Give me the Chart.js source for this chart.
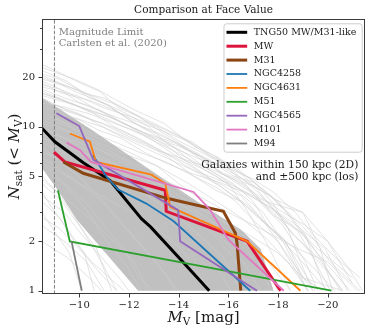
<!DOCTYPE html>
<html>
<head>
<meta charset="utf-8">
<script src="https://cdn.jsdelivr.net/npm/chart.js@4"></script>
<style>
  html, body { margin: 0; padding: 0; background: #fff; }
</style>
</head>
<body>
<canvas id="c" width="374" height="334"></canvas>
<script>
// axis limits + ticks
const xLimits = [-21.5, -8.5];
const yLimits = [0.955, 45.4];
const xTicks = [-10, -12, -14, -16, -18, -20];
const yTicksMajor = [1, 2, 5, 10, 20];
const yTicksMinor = [3, 4, 6, 7, 8, 9, 30, 40];
const magLimit = -9.0;

// TNG50 median + 16-84 band, [M_V, N_sat]
const tngMedian = [[-8.5, 9.8], [-9.02, 8.1], [-10.15, 6.05], [-11.24, 4.7], [-12.5, 2.75], [-12.87, 2.45], [-14.2, 1.48], [-15.23, 1.0]];
const bandUpper = [[-8.5, 15], [-10.5, 9.6], [-12.86, 5.45], [-15, 3.3], [-16.5, 2.36], [-17.3, 1.8], [-17.82, 1.0]];
const bandLower = [[-8.5, 5.6], [-9.14, 4.1], [-9.91, 2.7], [-12.37, 1.0], [-17.82, 1.0]];

// observed hosts
const mw = [[-8.98, 7.0], [-9.42, 6.1], [-13.46, 4.1], [-13.5, 3.05], [-16.76, 2.0], [-18.1, 1.0]];
const m31 = [[-9.36, 6.1], [-10.16, 5.2], [-10.83, 4.85], [-13.52, 3.66], [-15.8, 3.05], [-16.28, 2.25], [-16.35, 1.95], [-16.5, 1.0]];
const ngc4258 = [[-10.55, 6.7], [-11.1, 4.95], [-11.55, 4.15], [-12.7, 3.4], [-13.8, 2.65], [-16.88, 1.0]];
const ngc4631 = [[-9.62, 9.1], [-10.43, 8.1], [-10.67, 6.1], [-12.9, 5.1], [-13.46, 4.5], [-13.66, 3.25], [-16.76, 2.0], [-18.9, 1.0]];
const m51 = [[-9.14, 4.1], [-9.62, 2.0], [-20.15, 1.0]];
const ngc4565 = [[-9.08, 12.1], [-10.0, 10.1], [-10.56, 6.3], [-13.98, 3.1], [-14.06, 2.0], [-17.15, 1.0]];
const m101 = [[-9.49, 8.0], [-10.03, 7.2], [-10.47, 6.1], [-14.6, 4.0], [-15.27, 3.1], [-16.0, 2.05], [-18.23, 1.0]];
const m94 = [[-9.69, 2.0], [-10.1, 1.0]];

// individual TNG50 hosts (thin grey), estimated
const tngHosts = [
  [[-8.5, 24], [-9.3, 21], [-10.2, 18], [-10.8, 16.5], [-11.6, 13], [-12.4, 11.5], [-13.2, 9.5], [-14, 8], [-14.9, 6.3], [-15.8, 5.2], [-16.9, 4.4], [-17.8, 3.2], [-18.6, 2.2], [-19.6, 1.6], [-20.6, 1]],
  [[-8.5, 22], [-9.5, 19], [-10.4, 15], [-11.2, 13.5], [-12, 11], [-13, 9], [-13.8, 7.5], [-14.6, 6], [-15.5, 5], [-16.4, 4], [-17.4, 3], [-18.2, 2], [-19.2, 1]],
  [[-8.5, 20], [-9.1, 18.5], [-10, 16], [-11, 14], [-11.9, 12], [-12.8, 10], [-13.5, 8], [-14.2, 7], [-15.2, 5.5], [-16.2, 4.5], [-17, 3.5], [-17.6, 2.5], [-18.8, 1.6], [-20, 1]],
  [[-8.5, 19], [-9.6, 16], [-10.6, 13], [-11.5, 11], [-12.3, 9.5], [-13.1, 8], [-14, 6.5], [-15, 5.5], [-16, 4.5], [-16.8, 3], [-17.5, 2], [-18.5, 1]],
  [[-8.5, 18], [-9.2, 17], [-10, 14], [-10.9, 12.5], [-11.8, 10.5], [-12.7, 9], [-13.6, 7.5], [-14.4, 6], [-15.3, 4.8], [-16.5, 3.8], [-17.3, 2.8], [-18.1, 1.9], [-19.4, 1]],
  [[-8.5, 17], [-9.4, 15], [-10.3, 13.5], [-11.1, 12], [-12.2, 10.5], [-13.3, 9], [-14.4, 7.2], [-15.4, 6], [-16.2, 5], [-17, 4.6], [-17.9, 3.6], [-19, 3], [-20, 2], [-21, 1.1]],
  [[-8.5, 16], [-9.6, 14], [-10.6, 12], [-11.4, 10], [-12.4, 8.5], [-13.4, 7], [-14.3, 6], [-15.1, 5], [-16, 4], [-16.8, 3.3], [-17.8, 2.3], [-18.7, 1.8], [-20.3, 1]],
  [[-8.5, 15], [-9.3, 13], [-10.2, 11.5], [-11.3, 10], [-12.1, 8.8], [-13, 7.5], [-13.9, 6.3], [-14.8, 5.2], [-15.7, 4.3], [-16.6, 3.4], [-17.5, 2.6], [-18.3, 2], [-19, 1.2], [-19.8, 1]],
  [[-8.5, 14], [-9.8, 12], [-10.9, 10.5], [-11.8, 9], [-12.7, 7.8], [-13.6, 6.5], [-14.6, 5], [-15.5, 4.1], [-16.5, 3.5], [-17.3, 2.7], [-18.2, 2.1], [-18.9, 1.4], [-19.5, 1]],
  [[-8.5, 13], [-9.2, 12], [-10, 11], [-10.8, 9.5], [-11.7, 8.5], [-12.6, 7], [-13.5, 6], [-14.5, 5.2], [-15.6, 4.6], [-16.6, 4], [-17.7, 3.2], [-18.6, 2.5], [-19.6, 1.8], [-21, 1.2]],
  [[-8.5, 12], [-9.5, 10.5], [-10.5, 9.2], [-11.5, 8], [-12.4, 7], [-13.5, 6.1], [-14.6, 5], [-15.6, 4.2], [-16.3, 3.5], [-17.1, 2.6], [-18, 2], [-19.2, 1]],
  [[-8.5, 11], [-9.5, 9.5], [-10.6, 8], [-11.7, 6.5], [-12.8, 5.5], [-13.9, 4.2], [-15, 3.2], [-16, 2.5], [-17, 1.8], [-17.7, 1]],
  [[-8.5, 10], [-9.4, 8.5], [-10.3, 7.2], [-11.4, 6], [-12.5, 4.8], [-13.5, 3.8], [-14.6, 3], [-15.6, 2.2], [-16.6, 1.5], [-17.3, 1]],
  [[-8.5, 9], [-9.7, 7.5], [-10.8, 6.3], [-12, 5], [-13, 4], [-14.2, 3], [-15.3, 2.3], [-16.2, 1.6], [-16.8, 1]],
  [[-8.5, 8], [-9.3, 7], [-10.4, 6], [-11.6, 4.8], [-12.7, 3.8], [-13.8, 3], [-14.8, 2.2], [-15.8, 1.6], [-16.5, 1]],
  [[-8.5, 7], [-9.6, 6], [-10.7, 5], [-11.9, 4], [-13.2, 3], [-14.3, 2.2], [-15.2, 1.7], [-16.1, 1]],
  [[-8.5, 12.5], [-9.2, 11], [-10.1, 9], [-11.2, 7.5], [-12.2, 6.5], [-13.1, 5.8], [-14, 4.5], [-15, 3.5], [-15.9, 2.6], [-16.9, 2], [-17.6, 1.3], [-18, 1]],
  [[-8.5, 6], [-9.5, 5], [-10.6, 4], [-11.8, 3.2], [-13, 2.5], [-14.1, 1.8], [-15.3, 1]],
  [[-8.5, 10.5], [-9.8, 9], [-11, 7], [-12.1, 5.7], [-13.2, 4.5], [-14.4, 3.5], [-15.5, 2.8], [-16.8, 2.2], [-18, 1.7], [-19, 1.2], [-20.6, 1]],
  [[-8.5, 5], [-9.1, 4], [-9.7, 3], [-10.4, 2], [-11, 1.4], [-11.5, 1]],
  [[-8.5, 4.5], [-9.3, 3.5], [-10, 2.5], [-10.7, 1.8], [-11.3, 1]],
  [[-8.5, 4], [-8.9, 3.2], [-9.5, 2.4], [-10.2, 1.7], [-10.6, 1]],
  [[-8.5, 3.5], [-9.2, 2.8], [-9.8, 2], [-10.5, 1.5], [-11.8, 1]],
  [[-8.5, 3], [-9, 2.3], [-9.6, 1.7], [-10.1, 1]],
  [[-8.5, 5.5], [-9.4, 4.5], [-10.2, 3.5], [-11, 2.5], [-11.8, 1.8], [-12.4, 1.2], [-13, 1]],
  [[-8.5, 2.5], [-9.4, 2], [-10.3, 1.5], [-11, 1]],
  [[-8.5, 6.5], [-9.2, 5.5], [-10, 4.5], [-10.9, 3.5], [-11.7, 2.6], [-12.5, 1.9], [-13.4, 1.3], [-14, 1]],
  [[-8.5, 14.5], [-10, 12], [-11.5, 9], [-13, 7], [-14.5, 5.5], [-16, 4.5], [-17.5, 3.5], [-19.0, 3.0], [-19.7, 1.8], [-20.2, 1]],
  [[-8.5, 9.5], [-10, 8], [-11.6, 6.5], [-13, 5], [-14.5, 4], [-16, 3], [-17.5, 2.3], [-18.8, 1.8], [-20, 1.5], [-21.2, 1]],
  [[-8.5, 16.5], [-9.9, 13.5], [-11.2, 11], [-12.6, 8.8], [-13.9, 7], [-15.2, 5.5], [-16.4, 4.2], [-17.6, 3.3], [-18.6, 2.6], [-19.9, 1.8], [-20.8, 1]],
  [[-8.5, 23], [-9.8, 19.5], [-10.7, 17], [-11.5, 14.5], [-12.3, 12.5], [-13.4, 10.5], [-14.2, 8.5], [-15, 7], [-16, 5.8], [-16.9, 4.8], [-17.6, 3.9], [-18.4, 3], [-19.3, 2.2], [-20.1, 1.5], [-21.3, 1]],
  [[-8.5, 21], [-9.2, 19.5], [-10.1, 16.5], [-11.3, 13], [-12.5, 10], [-13.3, 8.8], [-14.3, 7.5], [-15.3, 6.2], [-16.1, 5.3], [-17.2, 4.2], [-18, 3.5], [-18.9, 2.4], [-19.8, 1.5], [-20.5, 1]],
  [[-8.5, 19.5], [-9.6, 17.5], [-10.5, 15.5], [-11.4, 13.8], [-12.2, 12], [-13, 10.5], [-13.9, 9], [-14.7, 7.5], [-15.6, 6.5], [-16.5, 5.2], [-17.2, 4.1], [-17.9, 3], [-18.8, 2.3], [-19.4, 1.6], [-20.1, 1]],
  [[-8.5, 18.5], [-9.3, 16], [-10.4, 14.5], [-11.3, 12.8], [-12.3, 10.8], [-13.3, 9.5], [-14.5, 8], [-15.6, 6.4], [-16.3, 5], [-17, 4], [-17.8, 2.9], [-19.1, 2.2], [-19.9, 1]],
  [[-8.5, 17.5], [-9.9, 15.5], [-11, 13], [-12.1, 11.5], [-13.1, 10], [-14, 8.2], [-14.9, 7], [-15.9, 5.8], [-16.8, 4.5], [-17.7, 3.8], [-18.5, 2.8], [-19.3, 1.9], [-20.9, 1]],
  [[-8.5, 16], [-9.1, 15], [-10.1, 13], [-11.2, 11.5], [-12.2, 9.8], [-13.1, 8.5], [-14.1, 7.5], [-15.1, 6.3], [-16.1, 5.5], [-17, 4.8], [-17.8, 4], [-18.7, 3], [-19.4, 2.2], [-20.3, 1.6], [-21.3, 1.2]],
  [[-8.5, 15.5], [-9.5, 14], [-10.5, 12.6], [-11.5, 11], [-12.6, 9.2], [-13.8, 8], [-14.8, 6.7], [-15.7, 5.2], [-16.7, 4.4], [-17.4, 3.3], [-18.2, 2.5], [-19.1, 1.5], [-19.6, 1]],
  [[-8.5, 14], [-9.4, 13.2], [-10.4, 12], [-11.4, 10.5], [-12.2, 9.5], [-13.2, 8.2], [-14.1, 7.1], [-15, 6.2], [-15.9, 5], [-16.9, 4], [-17.8, 3], [-18.9, 2], [-20, 1.3], [-20.6, 1]],
  [[-8.5, 13.5], [-9.7, 11.5], [-10.9, 10], [-12, 8.5], [-13, 7.3], [-14, 6.5], [-15.1, 5.7], [-16.2, 4.8], [-17.2, 3.8], [-18.2, 3], [-19.1, 2.5], [-20, 2], [-20.8, 1.4], [-21.4, 1]],
  [[-8.5, 20.5], [-9.4, 18], [-10.2, 16], [-11, 15], [-11.8, 13], [-12.6, 11], [-13.7, 9.2], [-14.6, 8], [-15.3, 6.6], [-16.2, 5.8], [-17.1, 4.5], [-17.8, 3.4], [-18.4, 2.4], [-18.9, 1.5], [-19.4, 1]],
  [[-8.5, 7.5], [-9.3, 6], [-10.1, 4.8], [-10.9, 3.6], [-11.6, 2.7], [-12.3, 2], [-13.1, 1.5], [-13.9, 1]],
  [[-8.5, 4.8], [-9, 4.1], [-9.8, 3.3], [-10.6, 2.6], [-11.4, 2], [-12.2, 1.5], [-12.8, 1]],
  [[-8.5, 3.8], [-9.4, 3], [-10.1, 2.2], [-10.9, 1.6], [-11.6, 1.2], [-12, 1]],
  [[-8.5, 2.8], [-9.2, 2.4], [-10, 1.8], [-10.8, 1.3], [-11.5, 1]],
  [[-8.5, 6], [-9.1, 5], [-9.8, 3.8], [-10.5, 2.8], [-11.1, 2], [-11.8, 1.5], [-12.5, 1]],
  [[-8.5, 2], [-9.5, 1.6], [-10.4, 1.2], [-10.9, 1]],
  [[-8.5, 11.5], [-9.6, 10], [-10.8, 8.5], [-12, 7], [-13.2, 5.7], [-14.4, 4.5], [-15.4, 3.6], [-16.5, 2.8], [-17.5, 2.1], [-18.4, 1.5], [-19.2, 1]],
  [[-8.5, 8.5], [-9.5, 7.5], [-10.6, 6.6], [-11.8, 5.5], [-12.9, 4.6], [-14, 3.6], [-15.1, 2.8], [-16.4, 2.1], [-17.6, 1.5], [-18.5, 1]],
];

const SERIF = "'DejaVu Serif', serif";
const pts = (arr) => arr.map(([x, y]) => ({ x, y }));

const hosts = [
  { label: 'MW', data: mw, color: '#dc143c', width: 3 },
  { label: 'M31', data: m31, color: '#8b4513', width: 3 },
  { label: 'NGC4258', data: ngc4258, color: '#1f77b4', width: 1.8 },
  { label: 'NGC4631', data: ngc4631, color: '#ff7f0e', width: 1.8 },
  { label: 'M51', data: m51, color: '#2ca02c', width: 1.8 },
  { label: 'NGC4565', data: ngc4565, color: '#9467bd', width: 1.8 },
  { label: 'M101', data: m101, color: '#e377c2', width: 1.8 },
  { label: 'M94', data: m94, color: '#7f7f7f', width: 1.8 },
];

const datasets = [];
datasets.push({
  label: 'TNG50 MW/M31-like', inLegend: true, data: pts(tngMedian),
  borderColor: '#000', borderWidth: 3, order: 20,
});
// later hosts drawn on top
hosts.forEach((h, i) => datasets.push({
  label: h.label, inLegend: true, data: pts(h.data),
  borderColor: h.color, borderWidth: h.width, order: 19 - i,
}));
datasets.push({
  data: [{ x: magLimit, y: yLimits[0] }, { x: magLimit, y: yLimits[1] }],
  borderColor: '#808080', borderWidth: 1, borderDash: [3.7, 1.6], order: 30,
});
tngHosts.forEach((run) => datasets.push({
  data: pts(run), borderColor: 'rgba(205,205,205,0.7)', borderWidth: 0.8, order: 40,
}));
datasets.push({
  data: pts(bandUpper.concat(bandLower.slice().reverse())),
  borderWidth: 0, backgroundColor: '#c0c0c0', fill: 'shape', order: 50,
});

function drawParts(ctx, parts, cx, base, angle) {
  ctx.save();
  ctx.translate(cx, base);
  ctx.rotate(angle);
  let total = 0;
  parts.forEach((p) => { ctx.font = p.font; p.w = ctx.measureText(p.text).width; total += p.w; });
  let x = -total / 2;
  ctx.textAlign = 'left';
  ctx.textBaseline = 'alphabetic';
  parts.forEach((p) => { ctx.font = p.font; ctx.fillText(p.text, x, p.dy || 0); x += p.w; });
  ctx.restore();
}

const decor = {
  id: 'decor',
  afterDraw(chart) {
    const ctx = chart.ctx, ca = chart.chartArea;
    const xs = chart.scales.x, ys = chart.scales.y;
    ctx.save();
    ctx.fillStyle = '#1a1a1a';

    // title
    ctx.font = '10.5px ' + SERIF;
    ctx.textAlign = 'center';
    ctx.textBaseline = 'middle';
    ctx.fillText('Comparison at Face Value', (ca.left + ca.right) / 2, 10);

    // frame + ticks
    ctx.strokeStyle = '#3a3a3a';
    ctx.lineWidth = 1;
    ctx.strokeRect(ca.left + 0.5, ca.top + 0.5, ca.right - ca.left - 1, ca.bottom - ca.top - 1);
    ctx.beginPath();
    xTicks.forEach((v) => { const px = Math.round(xs.getPixelForValue(v)) + 0.5; ctx.moveTo(px, ca.bottom); ctx.lineTo(px, ca.bottom + 3.5); });
    yTicksMajor.forEach((v) => { const py = Math.round(ys.getPixelForValue(v)) + 0.5; ctx.moveTo(ca.left - 3.5, py); ctx.lineTo(ca.left, py); });
    yTicksMinor.forEach((v) => { const py = Math.round(ys.getPixelForValue(v)) + 0.5; ctx.moveTo(ca.left - 2, py); ctx.lineTo(ca.left, py); });
    ctx.stroke();

    // axis labels
    const big = '15px ' + SERIF, bigI = 'italic 15px ' + SERIF, sub = '10.5px ' + SERIF;
    drawParts(ctx, [
      { text: 'M', font: bigI }, { text: 'V', font: sub, dy: 3 }, { text: ' [mag]', font: big },
    ], (ca.left + ca.right) / 2, 322, 0);
    drawParts(ctx, [
      { text: 'N', font: bigI }, { text: 'sat', font: sub, dy: 3 }, { text: ' (', font: big },
      { text: '<', font: big }, { text: ' ', font: big }, { text: 'M', font: bigI },
      { text: 'V', font: sub, dy: 3 }, { text: ')', font: big },
    ], 19, (ca.top + ca.bottom) / 2, -Math.PI / 2);

    // magnitude limit note
    ctx.fillStyle = '#808080';
    ctx.font = '10px ' + SERIF;
    ctx.textAlign = 'left';
    ctx.textBaseline = 'middle';
    const lx = xs.getPixelForValue(magLimit) + 4.3;
    ctx.fillText('Magnitude Limit', lx, 32.3);
    ctx.fillText('Carlsten et al. (2020)', lx, 43.7);

    // selection note
    ctx.fillStyle = '#1a1a1a';
    ctx.font = '10.7px ' + SERIF;
    ctx.textAlign = 'right';
    ctx.fillText('Galaxies within 150 kpc (2D)', ca.right - 6.7, 165);
    ctx.fillText('and \u00b1500 kpc (los)', ca.right - 6.7, 177.3);

    // legend
    const items = chart.data.datasets.filter((d) => d.inLegend);
    ctx.font = '9.5px ' + SERIF;
    const tw = Math.max(...items.map((d) => ctx.measureText(d.label).width));
    const bw = 3 + 20.7 + 6.6 + tw + 5.4;
    const right = ca.right - 3.3, top = ca.top + 4.3;
    const left = right - bw, rowH = 13.9;
    const bh = 9 + rowH * (items.length - 1) + 8.2;
    ctx.beginPath();
    ctx.roundRect(left + 0.5, top + 0.5, bw, bh, 2.5);
    ctx.fillStyle = 'rgba(255,255,255,0.85)';
    ctx.fill();
    ctx.strokeStyle = '#cccccc';
    ctx.stroke();
    ctx.textAlign = 'left';
    ctx.textBaseline = 'middle';
    items.forEach((d, i) => {
      const y = top + 9 + i * rowH;
      ctx.strokeStyle = d.borderColor;
      ctx.lineWidth = d.borderWidth;
      ctx.beginPath();
      ctx.moveTo(left + 3, y);
      ctx.lineTo(left + 23.7, y);
      ctx.stroke();
      ctx.fillStyle = '#1a1a1a';
      ctx.fillText(d.label, left + 30.3, y);
    });
    ctx.restore();
  },
};

new Chart(document.getElementById('c'), {
  type: 'line',
  data: { datasets },
  options: {
    responsive: false,
    animation: false,
    events: [],
    layout: { padding: { top: 19, right: 9, left: 0, bottom: 0 } },
    plugins: { legend: { display: false }, tooltip: { enabled: false }, title: { display: false } },
    elements: { point: { radius: 0 }, line: { tension: 0, fill: false } },
    scales: {
      x: {
        type: 'linear', reverse: true, min: xLimits[0], max: xLimits[1],
        grid: { display: false, drawTicks: false }, border: { display: false },
        ticks: {
          autoSkip: false, maxRotation: 0, padding: 5, color: '#1a1a1a',
          font: { family: SERIF, size: 10 },
          callback: (v) => '\u2212' + Math.abs(v),
        },
        afterBuildTicks: (s) => { s.ticks = xTicks.map((v) => ({ value: v })); },
        afterFit: (s) => { s.height = 40; },
      },
      y: {
        type: 'logarithmic', min: yLimits[0], max: yLimits[1],
        grid: { display: false, drawTicks: false }, border: { display: false },
        ticks: {
          autoSkip: false, padding: 7, color: '#1a1a1a',
          font: { family: SERIF, size: 10 },
          callback: (v) => (yTicksMajor.includes(v) ? String(v) : ''),
        },
        afterBuildTicks: (s) => { s.ticks = yTicksMajor.concat(yTicksMinor).map((v) => ({ value: v })); },
        afterFit: (s) => { s.width = 42; },
      },
    },
  },
  plugins: [decor],
});
</script>
</body>
</html>
